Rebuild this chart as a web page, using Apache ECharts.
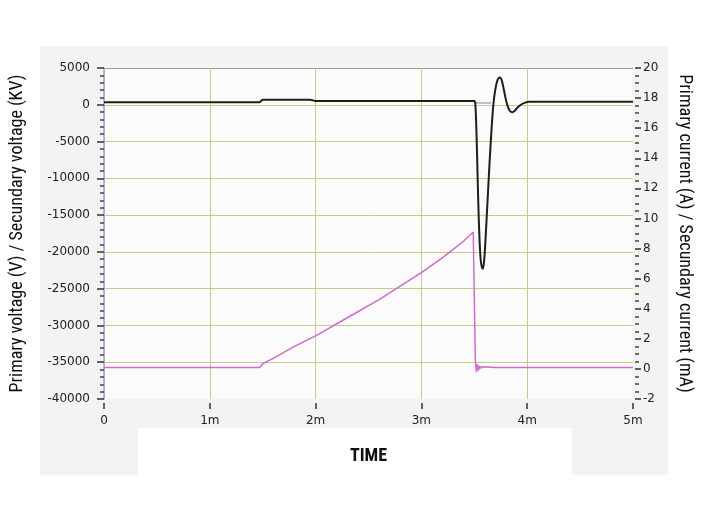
<!DOCTYPE html>
<html>
<head>
<meta charset="utf-8">
<script src="https://cdn.jsdelivr.net/npm/echarts@6/dist/echarts.min.js"></script>
<style>
  html, body { margin: 0; padding: 0; background: #fff; }
  #chart { width: 716px; height: 522px; }
</style>
</head>
<body>
<div id="chart"></div>
<script>
var myChart = echarts.init(document.getElementById('chart'));

// time in ms
var xTicks = ['0', '1m', '2m', '3m', '4m', '5m'];

// primary voltage (left axis)
var voltTime  = [0, 1.47, 1.5, 1.95, 2.0, 3.5, 3.51, 3.52, 3.53, 3.54, 3.55, 3.56, 3.57, 3.58, 3.59, 3.6, 3.62, 3.64, 3.66, 3.68, 3.7, 3.72, 3.74, 3.76, 3.78, 3.8, 3.82, 3.84, 3.86, 3.88, 3.9, 3.94, 3.98, 4.02, 5];
var voltValue = [350, 350, 700, 700, 500, 500, 0, -3500, -9000, -14500, -18500, -21000, -22000, -22300, -21600, -19800, -14500, -9000, -4000, 0, 2200, 3400, 3700, 3300, 2000, 600, -400, -900, -1000, -850, -500, 0, 300, 400, 400];

// faint secondary trace near the pulse
var secTime  = [3.5, 3.66];
var secValue = [250, 250];

// primary current (right axis)
var currTime  = [0, 1.47, 1.5, 1.6, 1.7, 1.8, 1.9, 2.0, 2.1, 2.2, 2.3, 2.4, 2.5, 2.6, 2.7, 2.8, 2.9, 3.0, 3.1, 3.2, 3.3, 3.4, 3.49, 3.51, 3.52, 3.53, 3.54, 3.55, 3.56, 3.58, 3.7, 5];
var currValue = [0.1, 0.1, 0.35, 0.7, 1.1, 1.5, 1.85, 2.2, 2.6, 3.0, 3.4, 3.8, 4.2, 4.6, 5.05, 5.5, 5.95, 6.4, 6.9, 7.4, 7.95, 8.5, 9.1, 0.6, -0.2, 0.3, -0.1, 0.2, 0.05, 0.15, 0.1, 0.1];

function pairs(xs, ys) {
    var res = [];
    for (var i = 0; i < xs.length; i++) {
        res.push([xs[i], ys[i]]);
    }
    return res;
}

var grid = '#c9c98a';
var font = 'DejaVu Sans';
var narrow = '"Liberation Sans Narrow", "Arial Narrow", "Roboto Condensed", sans-serif';

option = {
    backgroundColor: '#fff',
    animation: false,
    graphic: [
        { type: 'rect', z: -10, shape: { x: 40, y: 46, width: 628, height: 429 }, style: { fill: '#f3f3f3' } },
        { type: 'rect', z: -9, shape: { x: 138, y: 428, width: 434, height: 47 }, style: { fill: '#ffffff' } }
    ],
    grid: {
        left: 104,
        right: 83,
        top: 68,
        bottom: 123,
        show: true,
        backgroundColor: '#fbfbfb',
        borderWidth: 0
    },
    xAxis: {
        type: 'value',
        min: 0,
        max: 5,
        interval: 1,
        offset: 4,
        name: 'TIME',
        nameLocation: 'middle',
        nameGap: 44,
        nameTextStyle: { fontFamily: narrow, fontWeight: 'bold', fontSize: 18, color: '#111' },
        axisLine: { show: false, onZero: false },
        axisTick: { show: true, length: 6, lineStyle: { color: '#333', width: 1.5 } },
        axisLabel: {
            fontFamily: font, fontSize: 12, color: '#222', margin: 12,
            formatter: function (v) { return xTicks[Math.round(v)]; }
        },
        splitLine: { show: true, lineStyle: { color: [grid, grid, grid, grid, grid, 'rgba(0,0,0,0)'], width: 1 } }
    },
    yAxis: [
        {
            type: 'value',
            position: 'left',
            min: -40000,
            max: 5000,
            interval: 5000,
            offset: 4,
            name: 'Primary voltage (V) / Secundary voltage (KV)',
            nameLocation: 'middle',
            nameGap: 74,
            nameTextStyle: { fontFamily: narrow, fontSize: 18, color: '#111' },
            axisLine: { show: true, lineStyle: { color: '#a4a4d4', width: 1.5 } },
            axisTick: { show: true, length: 7, lineStyle: { color: '#333', width: 1.5 } },
            minorTick: { show: true, splitNumber: 5, length: 4, lineStyle: { color: '#444', width: 1.5 } },
            axisLabel: {
                fontFamily: font, fontSize: 12, color: '#222', margin: 10,
                formatter: function (v) { return String(v); }
            },
            splitLine: {
                show: true,
                lineStyle: { color: ['rgba(0,0,0,0)', grid, grid, grid, grid, grid, grid, grid, grid, '#9a9a9a'], width: 1 }
            }
        },
        {
            type: 'value',
            position: 'right',
            min: -2,
            max: 20,
            interval: 2,
            offset: 2,
            name: 'Primary current (A) / Secundary current (mA)',
            nameLocation: 'middle',
            nameRotate: -90,
            nameGap: 40,
            nameTextStyle: { fontFamily: narrow, fontSize: 18, color: '#111' },
            axisLine: { show: false },
            axisTick: { show: true, length: 6, lineStyle: { color: '#333', width: 1.5 } },
            minorTick: { show: true, splitNumber: 4, length: 4, lineStyle: { color: '#444', width: 1.5 } },
            axisLabel: { fontFamily: font, fontSize: 12, color: '#222', margin: 8 },
            splitLine: { show: false }
        }
    ],
    series: [
        {
            name: 'Primary current',
            type: 'line',
            yAxisIndex: 1,
            data: pairs(currTime, currValue),
            showSymbol: false,
            lineStyle: { color: '#d06ad0', width: 1.5 },
            z: 3
        },
        {
            name: 'Secundary voltage',
            type: 'line',
            yAxisIndex: 0,
            data: pairs(secTime, secValue),
            showSymbol: false,
            lineStyle: { color: '#a8c4dc', width: 2 },
            z: 2
        },
        {
            name: 'Primary voltage',
            type: 'line',
            yAxisIndex: 0,
            data: pairs(voltTime, voltValue),
            smooth: 0.3,
            showSymbol: false,
            lineStyle: { color: '#1e1e1e', width: 2 },
            z: 4
        }
    ]
};

myChart.setOption(option);
</script>
</body>
</html>
